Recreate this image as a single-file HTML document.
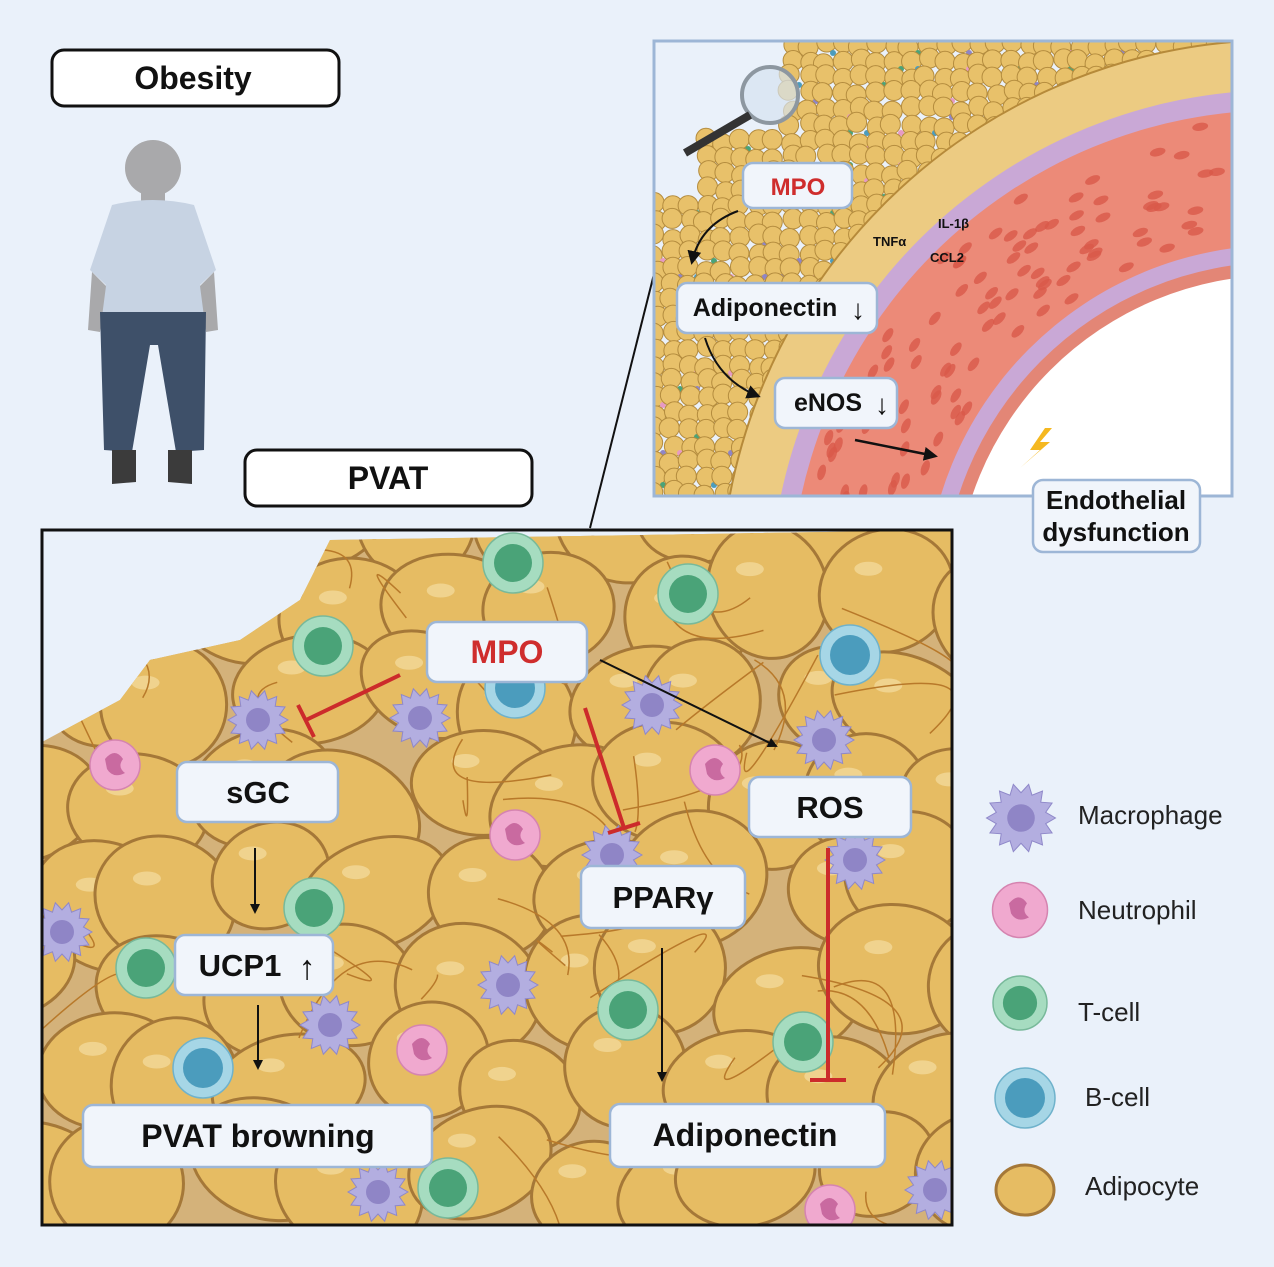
<!DOCTYPE html>
<html><head><meta charset="utf-8"><style>
html,body{margin:0;padding:0;background:#eaf1fa;}
svg{display:block;font-family:"Liberation Sans",sans-serif;}
.lbl{fill:#f1f5fb;stroke:#9db6d6;stroke-width:2.5;}
.t{font-weight:bold;fill:#111;text-anchor:middle;}
</style></head><body>
<svg id="s" width="1274" height="1267" viewBox="0 0 1274 1267" xmlns="http://www.w3.org/2000/svg">
<defs>
<clipPath id="mainc"><rect x="42" y="530" width="910" height="695"/></clipPath>
<clipPath id="fatc"><polygon points="42,742 120,700 150,660 240,640 300,600 330,540 952,530 952,1225 42,1225"/></clipPath>
<clipPath id="trc"><rect x="654" y="41" width="578" height="455"/></clipPath>
<marker id="ah" markerWidth="10" markerHeight="10" refX="8" refY="5" orient="auto" markerUnits="userSpaceOnUse"><path d="M0,0 L10,5 L0,10 z" fill="#111"/></marker>
<marker id="ah2" markerWidth="14" markerHeight="14" refX="11" refY="7" orient="auto" markerUnits="userSpaceOnUse"><path d="M0,0 L14,7 L0,14 z" fill="#111"/></marker>
</defs>
<rect width="1274" height="1267" fill="#eaf1fa"/>

<!-- Person -->
<g>
<circle cx="153" cy="168" r="28" fill="#a9a9ab"/>
<rect x="141" y="190" width="24" height="18" fill="#a9a9ab"/>
<path d="M112,205 Q153,195 194,205 L216,270 L200,285 L210,320 L96,320 L106,285 L90,270 Z" fill="#c7d3e3"/>
<path d="M92,272 L88,330 L100,332 L106,286 Z M214,272 L218,330 L206,332 L200,286 Z" fill="#a9a9ab"/>
<path d="M100,312 L206,312 L204,450 L176,452 L158,345 L150,345 L132,452 L104,450 Z" fill="#3e5069"/>
<path d="M112,450 L136,450 L136,482 L112,484 Z M168,450 L192,450 L192,484 L168,482 Z" fill="#3b3b3b"/>
</g>

<!-- Obesity / PVAT boxes -->
<rect x="52" y="50" width="287" height="56" rx="12" fill="#fff" stroke="#111" stroke-width="3"/>
<text x="193" y="89" class="t" font-size="32">Obesity</text>
<rect x="245" y="450" width="287" height="56" rx="12" fill="#fff" stroke="#111" stroke-width="3"/>
<text x="388" y="489" class="t" font-size="32">PVAT</text>
<line x1="590" y1="528" x2="655" y2="270" stroke="#111" stroke-width="2"/>

<!-- Top right vessel -->
<g clip-path="url(#trc)">
<rect x="654" y="41" width="578" height="455" fill="#eaf1fa"/>
<g id="tinyfat"></g>
<circle cx="1280" cy="600" r="560" fill="#eccb82" stroke="#b68a3a" stroke-width="2"/>
<circle cx="1280" cy="600" r="510" fill="#c9a8d6"/>
<circle cx="1280" cy="600" r="490" fill="#ec8a78"/>
<circle cx="1280" cy="600" r="355" fill="#c9a8d6"/>
<circle cx="1280" cy="600" r="338" fill="#e38676"/>
<circle cx="1280" cy="600" r="325" fill="#fff"/>
<g id="vnuc"></g>
<g transform="translate(770,95)"><circle r="28" fill="#d5e2ef" fill-opacity="0.7" stroke="#8d97a0" stroke-width="4"/><line x1="-20" y1="20" x2="-85" y2="58" stroke="#333" stroke-width="8"/></g>
<path d="M1045,428 L1030,450 L1040,450 L1020,468 L1050,442 L1040,442 L1052,428 Z" fill="#f5b820"/>
<path d="M738,211 Q700,225 692,262" fill="none" stroke="#111" stroke-width="2" marker-end="url(#ah2)"/>
<path d="M705,338 Q718,380 758,396" fill="none" stroke="#111" stroke-width="2" marker-end="url(#ah2)"/>
<line x1="855" y1="440" x2="935" y2="456" stroke="#111" stroke-width="2.5" marker-end="url(#ah2)"/>
<text x="873" y="246" font-size="13" font-weight="bold" fill="#111">TNFα</text>
<text x="938" y="228" font-size="13" font-weight="bold" fill="#111">IL-1β</text>
<text x="930" y="262" font-size="13" font-weight="bold" fill="#111">CCL2</text>
<rect x="743" y="163" width="109" height="45" rx="10" class="lbl"/>
<text x="798" y="195" font-size="24" font-weight="bold" fill="#cf2d2d" text-anchor="middle">MPO</text>
<rect x="677" y="283" width="200" height="50" rx="10" class="lbl"/>
<text x="765" y="316" class="t" font-size="25">Adiponectin</text>
<text x="858" y="319" class="t" font-size="28">↓</text>
<rect x="775" y="378" width="122" height="50" rx="10" class="lbl"/>
<text x="828" y="411" class="t" font-size="25">eNOS</text>
<text x="882" y="414" class="t" font-size="28">↓</text>
</g>
<rect x="654" y="41" width="578" height="455" fill="none" stroke="#9db6d6" stroke-width="3"/>
<rect x="1033" y="480" width="167" height="72" rx="10" class="lbl"/>
<text x="1116" y="509" class="t" font-size="26">Endothelial</text>
<text x="1116" y="541" class="t" font-size="26">dysfunction</text>

<!-- Main box -->
<g clip-path="url(#mainc)">
<rect x="42" y="530" width="910" height="695" fill="#eaf1fa"/>
<g clip-path="url(#fatc)">
<rect x="42" y="530" width="910" height="695" fill="#d4b27a"/>
<g id="fat"></g>
<g id="fib"></g>
</g>
<g id="cells"></g>
</g>
<rect x="42" y="530" width="910" height="695" fill="none" stroke="#111" stroke-width="3"/>

<!-- arrows main -->
<g stroke="#cc2b2b" stroke-width="4" fill="none">
<line x1="400" y1="675" x2="306" y2="720"/><line x1="298" y1="705" x2="314" y2="737"/>
<line x1="585" y1="708" x2="624" y2="828"/><line x1="608" y1="833" x2="640" y2="823"/>
<line x1="828" y1="848" x2="828" y2="1080"/><line x1="810" y1="1080" x2="846" y2="1080"/>
</g>
<line x1="600" y1="660" x2="776" y2="746" stroke="#111" stroke-width="2" marker-end="url(#ah)"/>
<line x1="255" y1="848" x2="255" y2="912" stroke="#111" stroke-width="2" marker-end="url(#ah)"/>
<line x1="258" y1="1005" x2="258" y2="1068" stroke="#111" stroke-width="2" marker-end="url(#ah)"/>
<line x1="662" y1="948" x2="662" y2="1080" stroke="#111" stroke-width="2" marker-end="url(#ah)"/>

<rect x="427" y="622" width="160" height="60" rx="10" class="lbl"/>
<text x="507" y="663" font-size="32" font-weight="bold" fill="#cf2d2d" text-anchor="middle">MPO</text>
<rect x="177" y="762" width="161" height="60" rx="10" class="lbl"/>
<text x="258" y="803" class="t" font-size="31">sGC</text>
<rect x="175" y="935" width="158" height="60" rx="10" class="lbl"/>
<text x="240" y="976" class="t" font-size="31">UCP1</text>
<text x="307" y="979" class="t" font-size="34">↑</text>
<rect x="83" y="1105" width="349" height="62" rx="10" class="lbl"/>
<text x="258" y="1147" class="t" font-size="32">PVAT browning</text>
<rect x="581" y="866" width="164" height="62" rx="10" class="lbl"/>
<text x="663" y="908" class="t" font-size="31">PPARγ</text>
<rect x="749" y="777" width="162" height="60" rx="10" class="lbl"/>
<text x="830" y="818" class="t" font-size="31">ROS</text>
<rect x="610" y="1104" width="275" height="63" rx="10" class="lbl"/>
<text x="745" y="1146" class="t" font-size="32">Adiponectin</text>

<!-- legend -->
<g id="legend"></g>
<g font-size="26" fill="#222">
<text x="1078" y="824">Macrophage</text>
<text x="1078" y="919">Neutrophil</text>
<text x="1078" y="1021">T-cell</text>
<text x="1085" y="1106">B-cell</text>
<text x="1085" y="1195">Adipocyte</text>
</g>
</svg>
<script>
var NS="http://www.w3.org/2000/svg";
function el(p,t,a){var e=document.createElementNS(NS,t);for(var k in a)e.setAttribute(k,a[k]);p.appendChild(e);return e;}
var seed=7;function r(){seed=(seed*16807)%2147483647;return (seed-1)/2147483646;}
// main fat
var g=document.getElementById('fat');
for(var y=510;y<1260;y+=95){for(var x=20;x<990;x+=105){
 var cx=x+(r()-0.5)*60+((y/95)%2)*50,cy=y+(r()-0.5)*40;
 el(g,'ellipse',{cx:cx,cy:cy,rx:58+r()*22,ry:50+r()*18,transform:'rotate('+(r()*60-30)+' '+cx+' '+cy+')',fill:'#e6bc63',stroke:'#a57838','stroke-width':3});
 el(g,'ellipse',{cx:cx-18,cy:cy-22,rx:14,ry:7,fill:'#f3d898',opacity:0.8});
}}
var f=document.getElementById('fib');
for(var i=0;i<40;i++){var x1=40+r()*920,y1=530+r()*700;
 el(f,'path',{d:'M'+x1+','+y1+' q'+(r()*160-80)+','+(r()*160-80)+' '+(r()*240-120)+','+(r()*200-100),fill:'none',stroke:'#b8792a','stroke-width':1.5});}
// cells
var c=document.getElementById('cells');
function mac(p,x,y,s){var pts='';for(var i=0;i<28;i++){var a=i/28*Math.PI*2,rr=(i%2?22:30)*s;pts+=(x+Math.cos(a)*rr)+','+(y+Math.sin(a)*rr)+' ';}
 el(p,'polygon',{points:pts,fill:'#b3aee0',stroke:'#8f88c9','stroke-width':1});el(p,'circle',{cx:x,cy:y,r:12*s,fill:'#8f85c6'});}
function neu(p,x,y,s){el(p,'circle',{cx:x,cy:y,r:25*s,fill:'#f0a9cf',stroke:'#d584b0','stroke-width':1.5});el(p,'path',{d:'M'+(x-10*s)+','+(y-6*s)+' q10,-12 18,0 q-6,8 2,14 q-12,6 -18,-4z',fill:'#c96aa0'});}
function tc(p,x,y,s){el(p,'circle',{cx:x,cy:y,r:30*s,fill:'#a6dcc0',stroke:'#78b99a','stroke-width':1.5});el(p,'circle',{cx:x,cy:y,r:19*s,fill:'#4aa378'});}
function bc(p,x,y,s){el(p,'circle',{cx:x,cy:y,r:30*s,fill:'#a6d6e6',stroke:'#6fb2cb','stroke-width':1.5});el(p,'circle',{cx:x,cy:y,r:20*s,fill:'#4b9cbd'});}
[[258,720],[420,718],[652,705],[824,740],[62,932],[330,1025],[508,985],[612,855],[378,1192],[855,860],[935,1190]].forEach(function(q){mac(c,q[0],q[1],1);});
[[115,765],[515,835],[715,770],[422,1050],[830,1210]].forEach(function(q){neu(c,q[0],q[1],1);});
[[513,563],[688,594],[314,908],[146,968],[628,1010],[803,1042],[448,1188],[323,646]].forEach(function(q){tc(c,q[0],q[1],1);});
[[850,655],[203,1068],[515,688]].forEach(function(q){bc(c,q[0],q[1],1);});
// legend
var L=document.getElementById('legend');
mac(L,1021,818,1.15);neu(L,1020,910,1.1);tc(L,1020,1003,0.9);bc(L,1025,1098,1);
el(L,'ellipse',{cx:1025,cy:1190,rx:29,ry:25,fill:'#e6bc63',stroke:'#a57838','stroke-width':3});
// tiny fat top right
var t=document.getElementById('tinyfat');
for(var y=45;y<500;y+=16){for(var x=655;x<1240;x+=17){
 if(x<790&&y<130)continue; if(x<700&&y<200)continue;
 el(t,'circle',{cx:x+(r()-0.5)*6,cy:y+(r()-0.5)*6,r:10,fill:'#e8c16a',stroke:'#b48c3e','stroke-width':1});
 if(r()<0.2)el(t,'circle',{cx:x+8,cy:y+8,r:3,fill:['#8f85c6','#4aa378','#4b9cbd','#e79ac4'][Math.floor(r()*4)]});
}}
// vessel nuclei
var v=document.getElementById('vnuc');
for(var i=0;i<160;i++){var a=Math.PI*(0.9+r()*0.65),rr=365+r()*115;var x=1280+Math.cos(a)*rr,y=600+Math.sin(a)*rr;
 el(v,'ellipse',{cx:x,cy:y,rx:8,ry:4,transform:'rotate('+(a*180/Math.PI+90)+' '+x+' '+y+')',fill:'#d9594a',opacity:0.8});}
</script>
</body></html>
